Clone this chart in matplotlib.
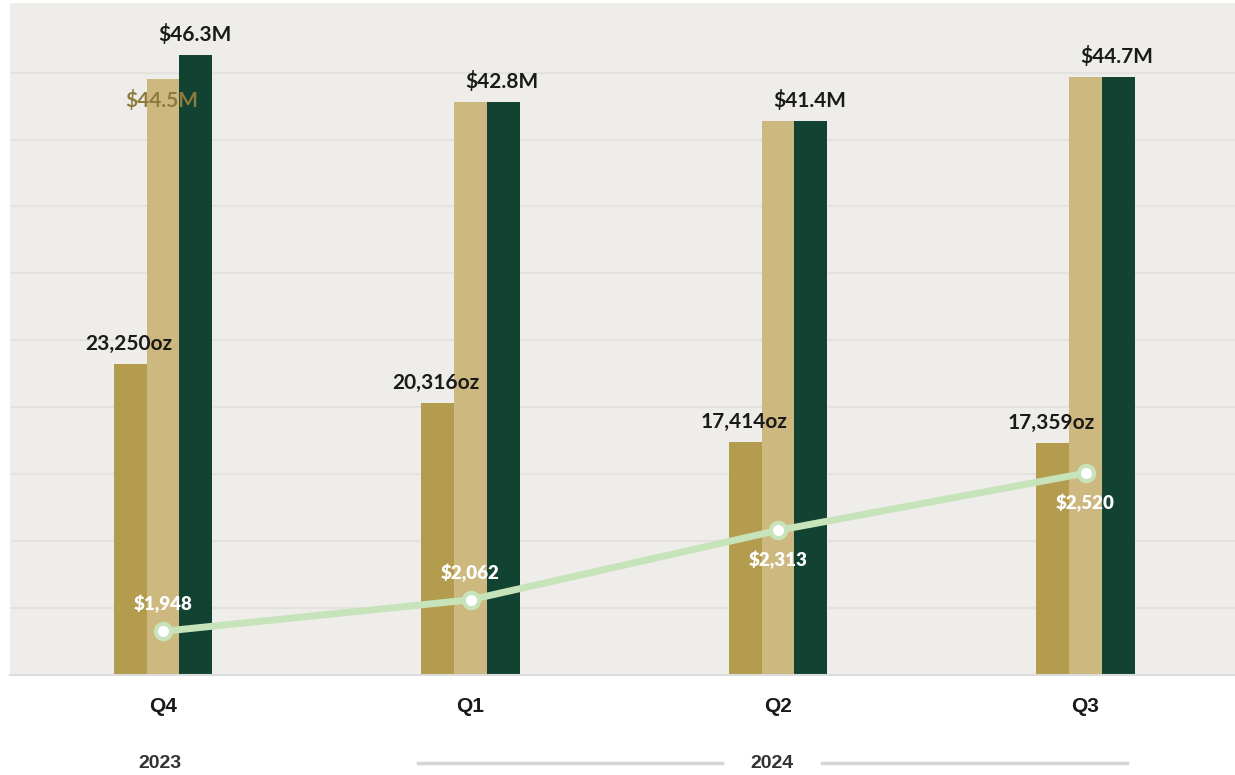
import numpy as np
import matplotlib.pyplot as plt

# data
quarters = ['Q4', 'Q1', 'Q2', 'Q3']
ounces = [23250, 20316, 17414, 17359]          # gold bars (oz)
revenue_a = [44.5, 42.8, 41.4, 44.7]           # tan bars ($M)
revenue_b = [46.3, 42.8, 41.4, 44.7]           # green bars ($M)
price = [1948, 2062, 2313, 2520]               # line ($/oz)
price_label_above = [True, True, False, False]

c_gold = '#b39c4d'
c_tan = '#cdb97f'
c_green = '#124232'
c_line = '#c6e3b9'
c_bg = '#eeede9'
c_text = '#1a1a1a'

plt.rcParams['font.family'] = ['Lato', 'DejaVu Sans']

fig = plt.figure(figsize=(12.35, 7.75), dpi=100)
ax = fig.add_axes([10 / 1235, 100 / 775, 1225 / 1235, 672 / 775])
ax.set_facecolor(c_bg)

x = np.arange(len(quarters))
w = 0.107

ax.bar(x - w, np.array(ounces) / 1000, w, color=c_gold, zorder=2)
ax.bar(x, revenue_a, w, color=c_tan, zorder=2)
ax.bar(x + w, revenue_b, w, color=c_green, zorder=2)

# price line on a second scale
ax2 = ax.twinx()
ax2.set_ylim(1790, 4220)
ax2.axis('off')
ax2.plot(x, price, color=c_line, linewidth=5, zorder=3)
ax2.plot(x, price, 'o', markersize=11, markerfacecolor='white', markeredgecolor=c_line,
         markeredgewidth=3, zorder=4)

ax.set_xlim(-0.4976, 3.486)
ax.set_ylim(0, 50.2)
ax.set_yticks(np.arange(5, 50, 5))
ax.yaxis.grid(True, color='#e3e2df', linewidth=1.5, zorder=0)
ax.tick_params(axis='y', left=False, right=False, labelleft=False)
for s in ['top', 'right', 'left']:
    ax.spines[s].set_visible(False)
ax.spines['bottom'].set_color('#dcdcdc')
ax.spines['bottom'].set_linewidth(1.5)

ax.set_xticks(x)
ax.set_xticklabels(quarters, fontsize=15, fontweight='bold', color=c_text,
                   family=['Liberation Sans', 'DejaVu Sans'])
ax.tick_params(axis='x', bottom=False, pad=12)

# value labels
for i in range(len(quarters)):
    ax.text(x[i] + w - 0.005, revenue_b[i] + 0.75, f'${revenue_b[i]}M', ha='center', va='bottom',
            fontsize=15, fontweight='bold', color=c_text, zorder=5)
    if revenue_a[i] != revenue_b[i]:
        ax.text(x[i] - 0.005, revenue_a[i] - 2.4, f'${revenue_a[i]}M', ha='center', va='bottom',
                fontsize=15, fontweight='bold', color='#8f7a3e', zorder=5)
    ax.text(x[i] - w - 0.005, ounces[i] / 1000 + 0.75, f'{ounces[i]:,}oz', ha='center', va='bottom',
            fontsize=15, fontweight='bold', color=c_text, zorder=5)

for i in range(len(quarters)):
    if price_label_above[i]:
        ax2.text(x[i], price[i] + 65, f'${price[i]:,}', ha='center', va='bottom',
                 fontsize=13.5, fontweight='heavy', color='white', zorder=6)
    else:
        ax2.text(x[i], price[i] - 75, f'${price[i]:,}', ha='center', va='top',
                 fontsize=13.5, fontweight='heavy', color='white', zorder=6)

# year row below the quarters
fig.text(160 / 1235, 12 / 775, '2023', ha='center', va='center', fontsize=14,
         fontweight='bold', color='#333333', family=['Liberation Sans', 'DejaVu Sans'])
fig.text(772 / 1235, 12 / 775, '2024', ha='center', va='center', fontsize=14,
         fontweight='bold', color='#333333', family=['Liberation Sans', 'DejaVu Sans'])
fig.add_artist(plt.Line2D([418 / 1235, 722 / 1235], [12 / 775, 12 / 775], color='#d6d6d6', linewidth=2.5))
fig.add_artist(plt.Line2D([822 / 1235, 1127 / 1235], [12 / 775, 12 / 775], color='#d6d6d6', linewidth=2.5))

fig.savefig('out.png', dpi=100, facecolor='white')
